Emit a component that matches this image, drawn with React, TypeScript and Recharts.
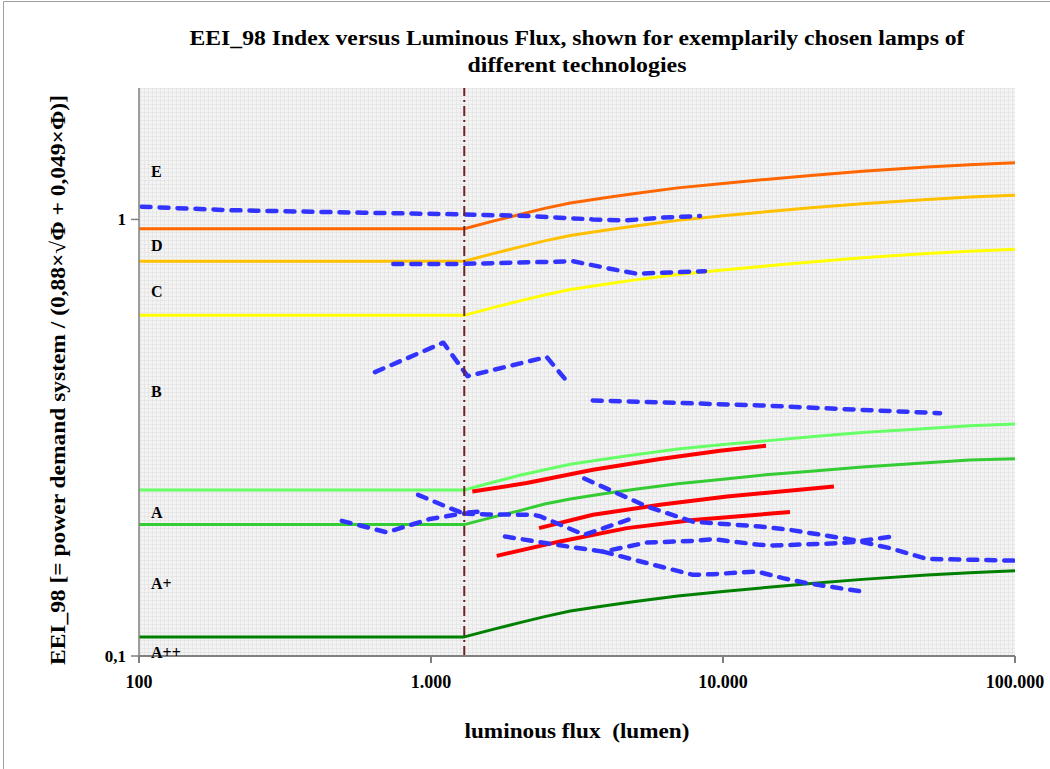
import React from 'react';
import { ComposedChart, Line, XAxis, YAxis, CartesianGrid, ReferenceLine, ReferenceDot } from 'recharts';

// ---- axes ----
const xTicks = [100, 1000, 10000, 100000];
const xTickLabels = ['100', '1.000', '10.000', '100.000'];
const yTicks = [0.1, 1];
const yTickLabels = ['0,1', '1'];

// ---- class boundary lines ----
const classFlux = [100, 1300, 1630, 2000, 2450, 3000, 4000, 5000, 7000, 10000, 14000, 20000, 30000, 50000, 70000, 100000];
const boundE = [0.952, 0.952, 0.991, 1.025, 1.06, 1.091, 1.123, 1.147, 1.181, 1.209, 1.235, 1.261, 1.289, 1.319, 1.335, 1.349];
const boundD = [0.802, 0.802, 0.835, 0.864, 0.893, 0.919, 0.946, 0.966, 0.995, 1.019, 1.041, 1.063, 1.086, 1.111, 1.125, 1.136];
const boundC = [0.603, 0.603, 0.628, 0.65, 0.671, 0.691, 0.711, 0.727, 0.748, 0.766, 0.782, 0.799, 0.817, 0.835, 0.846, 0.855];
const boundB = [0.24, 0.24, 0.25, 0.259, 0.267, 0.275, 0.283, 0.289, 0.298, 0.305, 0.311, 0.318, 0.325, 0.332, 0.337, 0.34];
const boundA = [0.2, 0.2, 0.208, 0.215, 0.223, 0.229, 0.236, 0.241, 0.248, 0.254, 0.26, 0.265, 0.271, 0.277, 0.281, 0.283];
const boundAplus = [0.1106, 0.1106, 0.1151, 0.1191, 0.1231, 0.1268, 0.1305, 0.1333, 0.1372, 0.1405, 0.1435, 0.1465, 0.1498, 0.1532, 0.1552, 0.1567];

// ---- class labels ----
const classNames = ['E', 'D', 'C', 'B', 'A', 'A+', 'A++'];
const classLabelLevel = [1.288, 0.872, 0.684, 0.403, 0.213, 0.147, 0.1021];

// ---- lamps (red, solid) ----
const red1Flux = [1385, 2127, 3587, 6084, 9766, 14040];
const red1Eei = [0.238, 0.249, 0.267, 0.2826, 0.2953, 0.3032];
const red2Flux = [2344, 3587, 6084, 10320, 23990];
const red2Eei = [0.1963, 0.2106, 0.222, 0.232, 0.2445];
const red3Flux = [1679, 2766, 4691, 7893, 16960];
const red3Eei = [0.1696, 0.183, 0.1963, 0.205, 0.2136];

// ---- lamps (blue, dashed) ----
const blue1Flux = [102, 205, 585, 1287, 2132, 3587, 4691, 6084, 8342];
const blue1Eei = [1.069, 1.05, 1.036, 1.027, 1.018, 1.0, 0.995, 1.009, 1.018];
const blue2Flux = [743, 1287, 3064, 4102, 5076, 6957, 8679];
const blue2Eei = [0.791, 0.791, 0.802, 0.771, 0.751, 0.757, 0.761];
const blue3Flux = [643, 1102, 1334, 2490, 2877];
const blue3Eei = [0.447, 0.522, 0.4375, 0.484, 0.431];
const blue4Flux = [3580, 6084, 13390, 25200, 55400];
const blue4Eei = [0.385, 0.381, 0.375, 0.368, 0.36];
const blue5Flux = [495, 705, 992, 1287, 1555, 2236, 2362, 3350, 4918];
const blue5Eei = [0.204, 0.192, 0.206, 0.212, 0.211, 0.2106, 0.209, 0.1895, 0.207];
const blue6Flux = [903, 1162, 1287, 1495];
const blue6Eei = [0.234, 0.218, 0.2125, 0.2145];
const blue7Flux = [3350, 4335, 5492, 7893, 13390, 16960, 27870, 37330, 49840, 100000];
const blue7Eei = [0.255, 0.236, 0.22, 0.203, 0.198, 0.1945, 0.1845, 0.1766, 0.1669, 0.1654];
const blue8Flux = [1792, 2701, 3882, 5492, 7893, 9243, 13390, 14840, 25160, 28760, 37830];
const blue8Eei = [0.1878, 0.1797, 0.1734, 0.1819, 0.1835, 0.1852, 0.1797, 0.1791, 0.1813, 0.1828, 0.1878];
const blue9Flux = [3882, 5492, 7893, 9243, 13080, 16050, 19400, 30170];
const blue9Eei = [0.1734, 0.1632, 0.1534, 0.154, 0.1561, 0.1508, 0.1468, 0.1404];

const limitFlux = 1300;

const pts = (xs: number[], ys: number[]) => xs.map((x, i) => ({ x, y: ys[i] }));

const serif = '"Liberation Serif", "Times New Roman", serif';

const classLines = [
  { d: boundE, c: '#ff6600' },
  { d: boundD, c: '#ffc000' },
  { d: boundC, c: '#ffff00' },
  { d: boundB, c: '#66ff66' },
  { d: boundA, c: '#33cc33' },
  { d: boundAplus, c: '#008000' },
];
const redLines = [pts(red1Flux, red1Eei), pts(red2Flux, red2Eei), pts(red3Flux, red3Eei)];
const blueLines = [
  pts(blue1Flux, blue1Eei), pts(blue2Flux, blue2Eei), pts(blue3Flux, blue3Eei),
  pts(blue4Flux, blue4Eei), pts(blue5Flux, blue5Eei), pts(blue6Flux, blue6Eei),
  pts(blue7Flux, blue7Eei), pts(blue8Flux, blue8Eei), pts(blue9Flux, blue9Eei),
];

export default function App() {
  return (
    <div style={{ position: 'absolute', left: 0, top: 0, width: 1050, height: 769, background: '#fff', fontFamily: serif }}>
      <ComposedChart width={1050} height={769} margin={{ top: 88, right: 35, bottom: 63, left: 59 }}>
        <defs>
          <pattern id="plotGrid" width="4" height="4" patternUnits="userSpaceOnUse">
            <rect width="4" height="4" fill="#f3f3f3" />
            <path d="M 4 0 L 0 0 0 4" fill="none" stroke="#dedede" strokeWidth="1" />
          </pattern>
        </defs>
        <CartesianGrid fill="url(#plotGrid)" horizontal={false} vertical={false} stroke="none" />
        <XAxis
          dataKey="x"
          type="number"
          scale="log"
          domain={[100, 100000]}
          allowDataOverflow
          ticks={xTicks}
          tickFormatter={(v: number) => xTickLabels[xTicks.indexOf(v)]}
          height={50}
          tickSize={7}
          tickMargin={12}
          stroke="#808080"
          strokeWidth={2}
          tick={{ fill: '#000', fontSize: 18, fontWeight: 'bold', fontFamily: serif }}
        />
        <YAxis
          dataKey="y"
          type="number"
          scale="log"
          domain={[0.1, 2]}
          allowDataOverflow
          ticks={yTicks}
          tickFormatter={(v: number) => yTickLabels[yTicks.indexOf(v)]}
          width={80}
          tickSize={8}
          tickMargin={5}
          stroke="#808080"
          strokeWidth={1.5}
          tick={{ fill: '#000', fontSize: 17, fontWeight: 'bold', fontFamily: serif }}
        />
        {classLines.map((l, i) => (
          <Line
            key={'c' + i}
            data={pts(classFlux, l.d)}
            dataKey="y"
            type="linear"
            stroke={l.c}
            strokeWidth={3}
            strokeLinejoin="round"
            dot={false}
            isAnimationActive={false}
          />
        ))}
        {redLines.map((d, i) => (
          <Line
            key={'r' + i}
            data={d}
            dataKey="y"
            type="linear"
            stroke="#ff0000"
            strokeWidth={4}
            strokeLinejoin="round"
            dot={false}
            isAnimationActive={false}
          />
        ))}
        {blueLines.map((d, i) => (
          <Line
            key={'b' + i}
            data={d}
            dataKey="y"
            type="linear"
            stroke="#3333ff"
            strokeWidth={4.5}
            strokeDasharray="9 9"
            strokeLinecap="round"
            strokeLinejoin="round"
            dot={false}
            isAnimationActive={false}
          />
        ))}
        <ReferenceLine x={limitFlux} stroke="#6e2323" strokeWidth={2} strokeDasharray="10 4 2 4" />
        {classNames.map((n, i) => (
          <ReferenceDot
            key={'l' + n}
            x={100}
            y={classLabelLevel[i]}
            r={1}
            fill="none"
            stroke="none"
            label={{ value: n, position: 'right', offset: 11, fill: '#000', fontSize: 16, fontWeight: 'bold', fontFamily: serif }}
          />
        ))}
      </ComposedChart>
      <svg width={1050} height={769} style={{ position: 'absolute', left: 0, top: 0, pointerEvents: 'none' }}>
        <line x1={3.5} y1={1.5} x2={1050} y2={1.5} stroke="#a0a0a0" />
        <line x1={3.5} y1={1.5} x2={3.5} y2={769} stroke="#a0a0a0" />
        <g fontFamily={serif} fontWeight="bold" fill="#000">
          <text x={577} y={38} textAnchor="middle" dominantBaseline="central" fontSize={20} textLength={775} lengthAdjust="spacingAndGlyphs">
            EEI_98 Index versus Luminous Flux, shown for exemplarily chosen lamps of
          </text>
          <text x={577} y={65} textAnchor="middle" dominantBaseline="central" fontSize={20} textLength={219} lengthAdjust="spacingAndGlyphs">
            different technologies
          </text>
          <text x={577} y={731} textAnchor="middle" dominantBaseline="central" fontSize={20} style={{ whiteSpace: 'pre' }} textLength={225} lengthAdjust="spacingAndGlyphs">
            luminous flux  (lumen)
          </text>
          <text transform="translate(58,380) rotate(-90)" textAnchor="middle" dominantBaseline="central" fontSize={21} textLength={570} lengthAdjust="spacingAndGlyphs">
            EEI_98 [= power demand system / (0,88×√Φ + 0,049×Φ)]
          </text>
        </g>
      </svg>
    </div>
  );
}
